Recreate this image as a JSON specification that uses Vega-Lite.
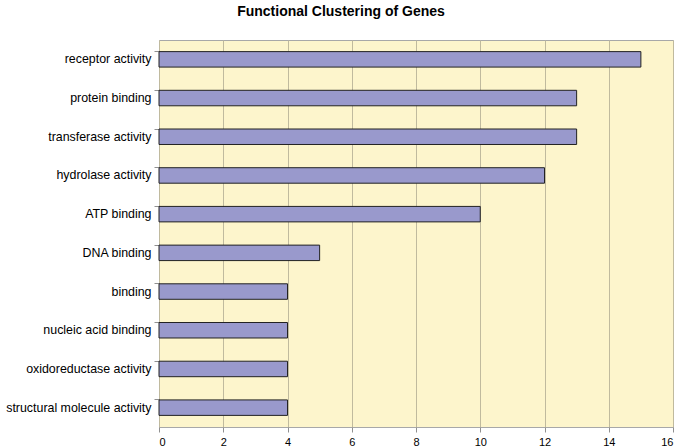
{
  "$schema": "https://vega.github.io/schema/vega-lite/v6.json",
  "autosize": {"type": "none"},
  "width": 514,
  "height": 387,
  "padding": {"left": 159, "top": 40, "right": 12, "bottom": 21},
  "background": "white",
  "title": {
    "text": "Functional Clustering of Genes",
    "font": "Liberation Sans",
    "fontSize": 14,
    "fontWeight": "bold",
    "color": "black",
    "anchor": "middle",
    "frame": "group",
    "dx": -75,
    "offset": 21
  },
  "data": {
    "values": [
      {"function": "receptor activity", "count": 15},
      {"function": "protein binding", "count": 13},
      {"function": "transferase activity", "count": 13},
      {"function": "hydrolase activity", "count": 12},
      {"function": "ATP binding", "count": 10},
      {"function": "DNA binding", "count": 5},
      {"function": "binding", "count": 4},
      {"function": "nucleic acid binding", "count": 4},
      {"function": "oxidoreductase activity", "count": 4},
      {"function": "structural molecule activity", "count": 4}
    ]
  },
  "config": {
    "view": {"fill": "#FDF5CC", "stroke": "#A8A8A8", "strokeWidth": 1},
    "axis": {
      "labelFont": "Liberation Sans",
      "labelFontSize": 12,
      "labelColor": "black",
      "domainColor": "#A0A0A0",
      "tickColor": "#909090",
      "titleFont": "Liberation Sans"
    }
  },
  "mark": {"type": "bar", "color": "#9999CC", "stroke": "#222222", "strokeWidth": 1},
  "encoding": {
    "y": {
      "field": "function",
      "type": "nominal",
      "sort": null,
      "title": null,
      "scale": {"paddingInner": 0.6, "paddingOuter": 0.3},
      "axis": {
        "bandPosition": 0,
        "tickSize": 5,
        "labelPadding": 3,
        "domain": false,
        "grid": false,
        "labelFontSize": 12.4,
        "labelLimit": 200
      }
    },
    "x": {
      "field": "count",
      "type": "quantitative",
      "title": null,
      "scale": {"domain": [0, 16], "nice": false},
      "axis": {
        "values": [0, 2, 4, 6, 8, 10, 12, 14, 16],
        "grid": true,
        "gridColor": "#C0BA9E",
        "gridWidth": 1,
        "tickSize": 5,
        "labelPadding": 4,
        "domain": false,
        "labelFontSize": 11
      }
    }
  }
}
